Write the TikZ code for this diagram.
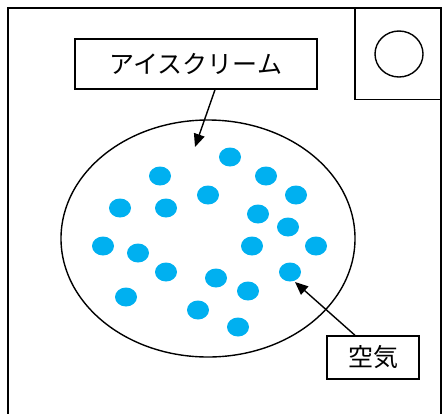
\documentclass[tikz,border=0pt]{standalone}
\usepackage{fontspec}
\newfontfamily\jpfont{Noto Sans CJK JP}
\usetikzlibrary{arrows.meta,shapes.geometric}
\definecolor{airblue}{RGB}{0,176,240}
\begin{document}
\begin{tikzpicture}[x=1pt,y=-1pt,
  frame/.style={draw=black,line width=1.4pt},
  labelbox/.style={draw=black,line width=1.4pt,fill=white,inner sep=0pt,font=\jpfont\fontsize{25}{25}\selectfont},
  bubble/.style={fill=airblue,draw=none,ellipse,minimum width=22pt,minimum height=19pt},
  pointer/.style={line width=1.4pt,-{Triangle[length=13pt,width=11pt]}}]
\useasboundingbox (0,0) rectangle (443,413);
\begin{scope}
\clip (0,0) rectangle (443,413);
\draw[frame] (8,8) rectangle (441,430);
\end{scope}
\draw[frame] (355,8) rectangle (441,99.5);
\draw[frame] (399,54) circle [x radius=24pt, y radius=23pt];
\node[frame,draw,ellipse,minimum width=294pt,minimum height=237pt,inner sep=0pt] (cream) at (208,238.5) {};
\foreach \px/\py [count=\i] in {230/157,160/176,266/176,208/195,296/195,120/208,166/208,258/214,288/227,103/246,138/253,252/246,316/246,166/272,216/278,290/272,126/297,248/291,198/310,238/327}
  \node[bubble] (b\i) at (\px,\py) {};
\node[labelbox,minimum width=242pt,minimum height=50pt] (lab1) at (196,64) {アイスクリーム};
\node[labelbox,minimum width=92pt,minimum height=43pt] (lab2) at (373,357.5) {空気};
\coordinate (t1) at (195,147);
\coordinate (t2) at (295,282);
\draw[pointer] (lab1.south -| 215,0) -- (t1);
\draw[pointer] (lab2.north -| 355,0) -- (t2);
\end{tikzpicture}
\end{document}
